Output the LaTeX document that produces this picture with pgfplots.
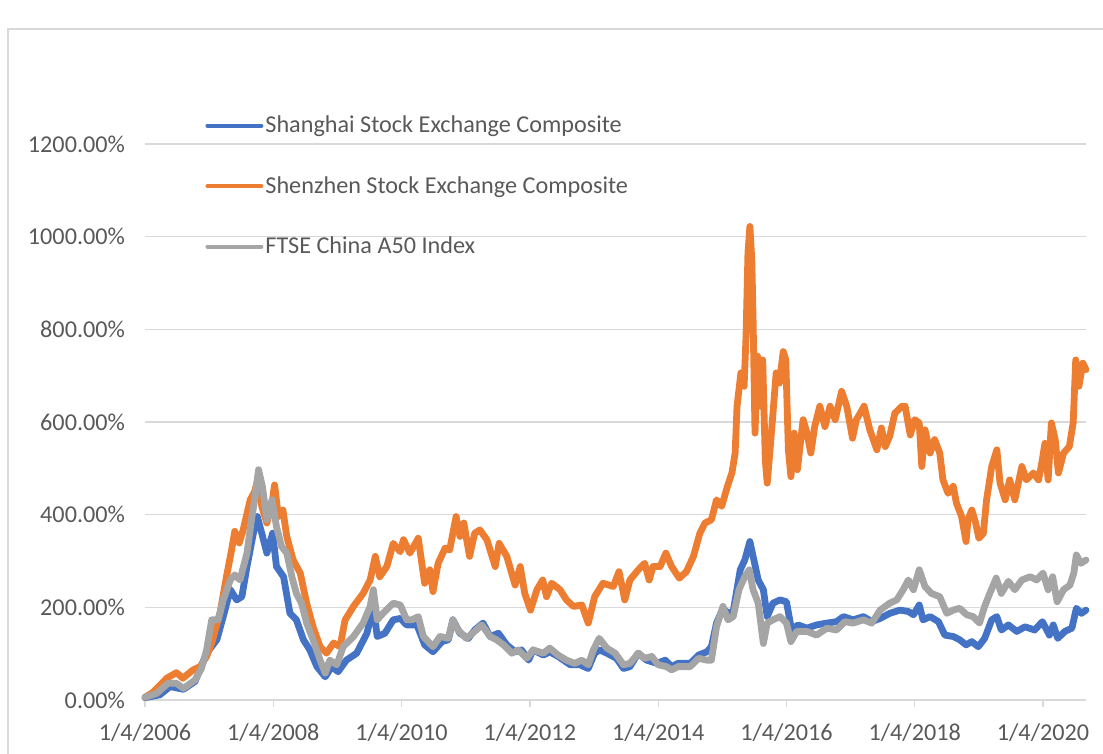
\documentclass[border=0pt]{standalone}
\usepackage{pgfplots}
\usepackage{pgfplotstable}
\pgfplotsset{compat=1.18}
\usepackage{fontspec}
\setmainfont{Carlito}
\definecolor{sse}{HTML}{4472C4}
\definecolor{szse}{HTML}{ED7D31}
\definecolor{ftse}{HTML}{A5A5A5}
\definecolor{gridc}{HTML}{D9D9D9}
\definecolor{txt}{HTML}{595959}

\pgfplotstableread{
x y
2006.00 5
2006.23 11
2006.39 29
2006.60 23
2006.78 40
2006.96 101
2007.12 130
2007.22 180
2007.33 238
2007.43 216
2007.51 223
2007.59 288
2007.69 360
2007.75 396
2007.82 360
2007.90 317
2007.99 360
2008.05 288
2008.16 266
2008.26 187
2008.36 173
2008.47 130
2008.57 108
2008.68 72
2008.81 50
2008.91 72
2009.01 61
2009.14 86
2009.30 101
2009.46 144
2009.56 202
2009.62 137
2009.74 144
2009.87 173
2009.98 176
2010.08 162
2010.24 162
2010.36 119
2010.49 104
2010.63 126
2010.73 130
2010.80 173
2010.91 144
2011.04 133
2011.14 151
2011.27 166
2011.38 137
2011.51 144
2011.64 119
2011.77 104
2011.87 108
2011.98 86
2012.05 108
2012.21 97
2012.31 104
2012.44 94
2012.63 76
2012.78 76
2012.91 68
2013.01 101
2013.09 108
2013.20 101
2013.35 90
2013.46 68
2013.56 72
2013.69 101
2013.82 86
2013.98 79
2014.11 86
2014.21 72
2014.31 79
2014.50 79
2014.63 97
2014.76 104
2014.83 115
2014.91 166
2015.01 198
2015.09 187
2015.17 191
2015.28 281
2015.35 302
2015.43 342
2015.48 310
2015.56 259
2015.64 238
2015.70 180
2015.79 209
2015.90 216
2016.00 212
2016.08 151
2016.18 162
2016.32 155
2016.47 162
2016.63 166
2016.78 169
2016.89 180
2017.04 173
2017.20 180
2017.33 169
2017.46 176
2017.61 187
2017.77 194
2017.90 191
2017.98 184
2018.07 205
2018.13 173
2018.24 180
2018.37 169
2018.47 140
2018.60 137
2018.70 130
2018.80 119
2018.89 126
2018.99 115
2019.09 133
2019.20 173
2019.28 180
2019.35 151
2019.46 162
2019.59 148
2019.72 158
2019.87 151
2019.99 169
2020.10 140
2020.16 162
2020.23 133
2020.34 148
2020.45 155
2020.52 198
2020.60 187
2020.67 194
}\sseTable

\pgfplotstableread{
x y
2006.00 6
2006.12 16
2006.34 47
2006.49 59
2006.59 47
2006.75 65
2006.86 72
2006.96 94
2007.04 123
2007.17 188
2007.27 266
2007.35 324
2007.40 364
2007.47 339
2007.53 367
2007.64 432
2007.71 450
2007.77 482
2007.82 418
2007.90 382
2007.98 425
2008.02 464
2008.08 396
2008.15 410
2008.21 353
2008.31 302
2008.42 274
2008.52 209
2008.62 158
2008.73 115
2008.83 101
2008.94 123
2009.04 115
2009.12 173
2009.25 202
2009.40 230
2009.51 259
2009.59 310
2009.66 266
2009.77 288
2009.87 338
2009.98 320
2010.03 346
2010.13 317
2010.26 349
2010.36 252
2010.44 281
2010.49 234
2010.57 295
2010.68 328
2010.75 324
2010.85 396
2010.91 353
2010.97 382
2011.06 310
2011.14 360
2011.22 367
2011.33 346
2011.46 288
2011.52 338
2011.64 310
2011.77 248
2011.85 288
2011.92 230
2012.01 194
2012.11 238
2012.20 259
2012.26 223
2012.34 252
2012.47 238
2012.57 216
2012.68 202
2012.81 205
2012.91 166
2013.01 223
2013.14 252
2013.30 245
2013.39 277
2013.48 216
2013.56 259
2013.69 281
2013.79 295
2013.86 259
2013.92 288
2014.03 288
2014.12 317
2014.21 288
2014.33 263
2014.44 277
2014.55 310
2014.65 360
2014.73 382
2014.83 389
2014.91 432
2014.99 418
2015.08 461
2015.15 490
2015.20 533
2015.23 634
2015.29 706
2015.34 677
2015.37 785
2015.40 965
2015.43 1022
2015.46 950
2015.48 821
2015.51 576
2015.55 742
2015.59 634
2015.63 734
2015.67 518
2015.70 468
2015.74 533
2015.79 619
2015.84 706
2015.89 684
2015.95 752
2015.99 734
2016.03 540
2016.07 482
2016.12 576
2016.17 497
2016.26 605
2016.32 576
2016.38 533
2016.44 590
2016.52 634
2016.60 590
2016.68 634
2016.76 605
2016.86 666
2016.94 634
2017.03 565
2017.09 605
2017.15 619
2017.21 634
2017.30 583
2017.41 540
2017.48 587
2017.54 547
2017.61 569
2017.69 619
2017.80 634
2017.85 634
2017.93 572
2018.00 605
2018.07 598
2018.11 504
2018.16 583
2018.24 533
2018.31 562
2018.39 533
2018.44 475
2018.52 446
2018.60 461
2018.65 425
2018.73 396
2018.80 342
2018.83 389
2018.89 410
2018.95 382
2019.00 349
2019.07 360
2019.12 432
2019.20 504
2019.28 540
2019.33 468
2019.41 432
2019.48 475
2019.56 432
2019.67 504
2019.74 475
2019.85 490
2019.93 475
2019.98 511
2020.03 554
2020.08 475
2020.13 598
2020.19 562
2020.24 490
2020.32 533
2020.41 547
2020.47 598
2020.51 734
2020.56 677
2020.62 727
2020.67 713
}\szseTable

\pgfplotstableread{
x y
2006.00 6
2006.18 14
2006.36 36
2006.49 36
2006.60 25
2006.78 43
2006.88 68
2006.96 108
2007.04 173
2007.14 173
2007.22 216
2007.33 259
2007.40 270
2007.48 259
2007.59 317
2007.66 389
2007.71 432
2007.77 497
2007.83 461
2007.90 389
2007.98 432
2008.05 374
2008.13 331
2008.21 317
2008.29 266
2008.36 230
2008.44 209
2008.52 166
2008.62 130
2008.73 86
2008.81 58
2008.88 86
2008.99 76
2009.09 115
2009.25 137
2009.40 166
2009.51 202
2009.56 238
2009.62 173
2009.71 187
2009.87 209
2009.98 205
2010.08 173
2010.16 173
2010.26 180
2010.34 137
2010.49 115
2010.60 137
2010.73 133
2010.80 173
2010.88 151
2011.01 133
2011.14 148
2011.25 162
2011.38 137
2011.48 130
2011.59 119
2011.72 101
2011.82 108
2011.95 90
2012.05 108
2012.21 101
2012.31 112
2012.44 97
2012.57 86
2012.70 79
2012.81 86
2012.91 76
2012.99 108
2013.08 133
2013.20 112
2013.33 101
2013.46 76
2013.56 79
2013.69 101
2013.79 90
2013.90 94
2014.00 76
2014.13 72
2014.21 65
2014.31 72
2014.50 72
2014.63 90
2014.76 86
2014.83 86
2014.91 158
2015.01 202
2015.09 173
2015.17 180
2015.26 238
2015.35 266
2015.42 281
2015.48 238
2015.56 209
2015.64 122
2015.70 166
2015.79 173
2015.90 180
2016.00 166
2016.07 126
2016.16 148
2016.32 148
2016.47 140
2016.63 155
2016.78 151
2016.91 169
2017.04 166
2017.20 173
2017.33 166
2017.46 194
2017.61 209
2017.72 216
2017.82 238
2017.90 259
2017.98 238
2018.07 281
2018.16 245
2018.26 230
2018.39 223
2018.50 187
2018.60 194
2018.70 198
2018.81 184
2018.91 180
2019.01 166
2019.09 202
2019.17 230
2019.27 263
2019.35 230
2019.46 256
2019.56 238
2019.67 259
2019.80 266
2019.90 259
2020.00 274
2020.08 238
2020.15 266
2020.22 212
2020.32 238
2020.42 248
2020.48 274
2020.52 313
2020.59 295
2020.67 302
}\ftseTable

\begin{document}
\begin{tikzpicture}
\path[use as bounding box] (-72.5pt,-27pt) rectangle (479pt,350pt);
\draw[gridc, line width=0.6pt] (-68.5pt,-27pt) -- (-68.5pt,335.5pt) -- (479pt,335.5pt);
\begin{axis}[
  name=ax, at={(0,0)}, anchor=south west,
  scale only axis, width=470.5pt, height=278pt,
  xmin=2006, xmax=2020.67, ymin=0, ymax=1200,
  ytick={0,200,400,600,800,1000,1200},
  yticklabels={0.00\%,200.00\%,400.00\%,600.00\%,800.00\%,1000.00\%,1200.00\%},
  xtick={2006,2008,2010,2012,2014,2016,2018,2020},
  xticklabels={1/4/2006,1/4/2008,1/4/2010,1/4/2012,1/4/2014,1/4/2016,1/4/2018,1/4/2020},
  ymajorgrids, grid style={gridc, line width=0.65pt},
  axis x line*=bottom, axis y line*=left,
  y axis line style={draw=none},
  x axis line style={gridc, line width=0.65pt, -},
  ytick style={draw=none},
  xtick style={gridc, line width=0.65pt},
  tick align=outside, major tick length=3.5pt,
  tick label style={font=\fontsize{12.1}{14}\selectfont, text=txt},
  yticklabel style={xshift=-3pt},
  xticklabel style={yshift=-5pt},
  clip=false,
  legend style={at={(0.0638,1.055)}, anchor=north west, draw=none, fill=none,
    inner sep=0pt, row sep=18.3pt, font=\fontsize{12.1}{14}\selectfont, text=txt,
    nodes={inner sep=1pt}},
  legend cell align=left,
  legend image code/.code={\draw[#1, line width=2pt, line cap=round] (0pt,0pt) -- (27pt,0pt);},
]
\addplot[sse, line width=3.4pt, line join=round, line cap=round] table {\sseTable};
\addlegendentry{Shanghai Stock Exchange Composite}
\addplot[szse, line width=3.4pt, line join=round, line cap=round] table {\szseTable};
\addlegendentry{Shenzhen Stock Exchange Composite}
\addplot[ftse, line width=3.4pt, line join=round, line cap=round] table {\ftseTable};
\addlegendentry{FTSE China A50 Index}
\end{axis}
\end{tikzpicture}
\end{document}
